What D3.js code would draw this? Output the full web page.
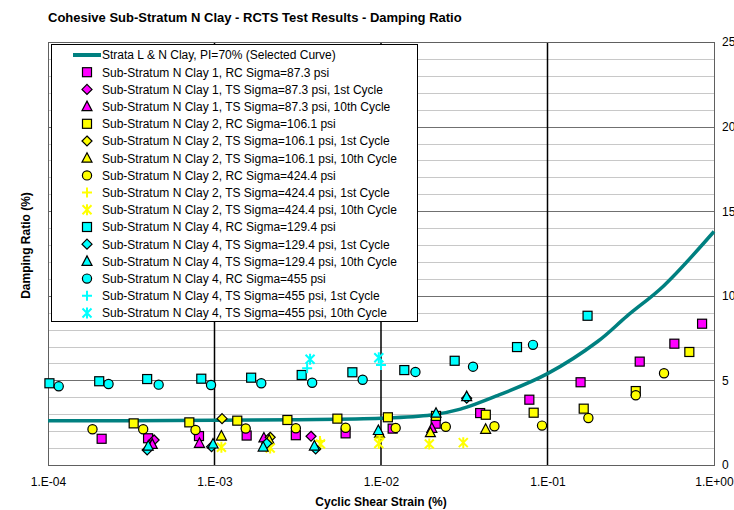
<!DOCTYPE html>
<html>
<head>
<meta charset="utf-8">
<script src="https://cdn.jsdelivr.net/npm/d3@7"></script>
<style>
  body { margin: 0; background: #fff; }
  svg text { font-family: "Liberation Sans", Arial, sans-serif; }
</style>
</head>
<body>
<div id="chart"></div>
<script>
// selected design curve
var curveStrain = [0.0001, 0.0003, 0.001, 0.003, 0.01, 0.02, 0.03, 0.05, 0.1, 0.2, 0.3, 0.5, 1.0];
var curveDamping = [2.62, 2.62, 2.64, 2.68, 2.76, 2.95, 3.3, 4.1, 5.4, 7.3, 8.8, 10.6, 13.8];

// test points: [strain %, damping %]
var clay1RC = [[2.1e-4, 1.55], [3.99e-4, 1.58], [8.07e-4, 1.71], [1.56e-3, 1.74], [3.08e-3, 1.76], [6.13e-3, 1.87],
  [0.01175, 2.15], [0.0213, 2.44], [0.0394, 3.07], [0.0778, 3.86], [0.158, 4.89], [0.358, 6.11], [0.578, 7.17], [0.848, 8.35]];
var clay1TS1 = [[4.34e-4, 1.48], [3.8e-3, 1.70]];
var clay1TS10 = [[4.23e-4, 1.22], [8.12e-4, 1.28], [1.98e-3, 1.60], [0.0202, 2.17]];
var clay2RC106 = [[3.27e-4, 2.46], [7.06e-4, 2.52], [1.37e-3, 2.62], [2.74e-3, 2.66], [5.47e-3, 2.74], [0.0110, 2.82],
  [0.0214, 2.9], [0.0426, 2.97], [0.0826, 3.09], [0.165, 3.33], [0.339, 4.37], [0.711, 6.68]];
var clay2TS1 = [[1.11e-3, 2.74], [2.16e-3, 1.64]];
var clay2TS10 = [[1.10e-3, 1.71], [2.13e-3, 1.48], [9.8e-3, 1.87], [0.0198, 1.91], [0.0425, 2.11]];
var clay2RC424 = [[1.85e-4, 2.11], [3.73e-4, 2.11], [7.69e-4, 2.07], [1.54e-3, 2.16], [3.08e-3, 2.17], [6.13e-3, 2.20],
  [0.01225, 2.19], [0.0245, 2.26], [0.048, 2.29], [0.0927, 2.33], [0.176, 2.78], [0.339, 4.12], [0.501, 5.42]];
var clay2TS424_1 = [[4.3e-3, 1.42], [9.8e-3, 1.58]];
var clay2TS424_10 = [[1.1e-3, 1.05], [2.16e-3, 1.0], [4.33e-3, 1.24], [9.7e-3, 1.27], [0.0195, 1.24], [0.0312, 1.32]];
var clay4RC129 = [[1.02e-4, 4.83], [2.03e-4, 4.95], [3.94e-4, 5.08], [8.33e-4, 5.10], [1.66e-3, 5.16], [3.34e-3, 5.32],
  [6.73e-3, 5.48], [0.0138, 5.61], [0.0277, 6.16], [0.0656, 6.97], [0.174, 8.82]];
var clay4TS1 = [[3.94e-4, 0.89], [9.6e-4, 1.08], [2.06e-3, 1.28], [4.05e-3, 0.95], [0.0327, 3.95]];
var clay4TS10 = [[4.0e-4, 1.12], [9.8e-4, 1.24], [1.96e-3, 1.06], [3.98e-3, 1.12], [9.64e-3, 2.04], [0.0214, 3.06], [0.0327, 4.04]];
var clay4RC455 = [[1.16e-4, 4.65], [2.31e-4, 4.79], [4.62e-4, 4.75], [9.53e-4, 4.73], [1.91e-3, 4.83], [3.86e-3, 4.86],
  [7.76e-3, 5.04], [0.0161, 5.50], [0.0357, 5.81], [0.0818, 7.10]];
var clay4TS455_1 = [[3.6e-3, 5.72], [0.01, 5.91]];
var clay4TS455_10 = [[3.75e-3, 6.25], [9.7e-3, 6.34]];

var curveName = "Strata L & N Clay, PI=70% (Selected Curve)";
var seriesNames = [
  "Sub-Stratum N Clay 1, RC Sigma=87.3 psi",
  "Sub-Stratum N Clay 1, TS Sigma=87.3 psi, 1st Cycle",
  "Sub-Stratum N Clay 1, TS Sigma=87.3 psi, 10th Cycle",
  "Sub-Stratum N Clay 2, RC Sigma=106.1 psi",
  "Sub-Stratum N Clay 2, TS Sigma=106.1 psi, 1st Cycle",
  "Sub-Stratum N Clay 2, TS Sigma=106.1 psi, 10th Cycle",
  "Sub-Stratum N Clay 2, RC Sigma=424.4 psi",
  "Sub-Stratum N Clay 2, TS Sigma=424.4 psi, 1st Cycle",
  "Sub-Stratum N Clay 2, TS Sigma=424.4 psi, 10th Cycle",
  "Sub-Stratum N Clay 4, RC Sigma=129.4 psi",
  "Sub-Stratum N Clay 4, TS Sigma=129.4 psi, 1st Cycle",
  "Sub-Stratum N Clay 4, TS Sigma=129.4 psi, 10th Cycle",
  "Sub-Stratum N Clay 4, RC Sigma=455 psi",
  "Sub-Stratum N Clay 4, TS Sigma=455 psi, 1st Cycle",
  "Sub-Stratum N Clay 4, TS Sigma=455 psi, 10th Cycle"
];
var seriesData = [clay1RC, clay1TS1, clay1TS10, clay2RC106, clay2TS1, clay2TS10, clay2RC424, clay2TS424_1, clay2TS424_10,
  clay4RC129, clay4TS1, clay4TS10, clay4RC455, clay4TS455_1, clay4TS455_10];
var seriesShapes = ["square", "diamond", "triangle", "square", "diamond", "triangle", "circle", "plus", "star",
  "square", "diamond", "triangle", "circle", "plus", "star"];
var seriesColors = ["#ff00ff", "#ff00ff", "#ff00ff", "#ffff00", "#ffff00", "#ffff00", "#ffff00", "#ffff00", "#ffff00",
  "#00ffff", "#00ffff", "#00ffff", "#00ffff", "#00ffff", "#00ffff"];

var xTicks = [1e-4, 1e-3, 1e-2, 1e-1, 1];
var xTickLabels = ["1.E-04", "1.E-03", "1.E-02", "1.E-01", "1.E+00"];
var yTicks = [0, 5, 10, 15, 20, 25];

var W = 734, H = 510;
var margin = {top: 42, right: 20, bottom: 45, left: 48};
var width = W - margin.left - margin.right,
    height = H - margin.top - margin.bottom;

var svg = d3.select("#chart").append("svg")
    .attr("width", W)
    .attr("height", H);

var x = d3.scaleLog().domain([1e-4, 1]).range([0, width]),
    y = d3.scaleLinear().domain([0, 25]).range([height, 0]);

var g = svg.append("g")
    .attr("transform", "translate(" + margin.left + "," + margin.top + ")");

// title
svg.append("text")
    .attr("x", 48).attr("y", 22)
    .attr("font-size", "13px").attr("font-weight", "bold")
    .text("Cohesive Sub-Stratum N Clay - RCTS Test Results - Damping Ratio");

// horizontal gridlines
var minor = d3.range(1, 25).filter(function (v) { return v % 5 !== 0; });
g.selectAll(".minor").data(minor).enter().append("line")
    .attr("x1", 0).attr("x2", width)
    .attr("y1", function (d) { return Math.round(y(d)) + 0.5; })
    .attr("y2", function (d) { return Math.round(y(d)) + 0.5; })
    .attr("stroke", "#c8c8c8").attr("stroke-width", 1);
g.selectAll(".major").data([5, 10, 15, 20]).enter().append("line")
    .attr("x1", 0).attr("x2", width)
    .attr("y1", function (d) { return Math.round(y(d)) + 0.5; })
    .attr("y2", function (d) { return Math.round(y(d)) + 0.5; })
    .attr("stroke", "#707070").attr("stroke-width", 1);

// decade lines
g.selectAll(".decade").data([1e-3, 1e-2, 1e-1]).enter().append("line")
    .attr("x1", function (d) { return x(d); }).attr("x2", function (d) { return x(d); })
    .attr("y1", 0).attr("y2", height)
    .attr("stroke", "#000").attr("stroke-width", 1.5);

// plot border
g.append("rect")
    .attr("x", 0.5).attr("y", 0.5)
    .attr("width", width).attr("height", height)
    .attr("fill", "none").attr("stroke", "#606060");

// x axis labels
g.append("g")
    .attr("transform", "translate(0," + height + ")")
    .call(d3.axisBottom(x).tickValues(xTicks).tickSize(0).tickPadding(12)
        .tickFormat(function (d, i) { return xTickLabels[i]; }))
    .call(function (a) {
        a.select(".domain").remove();
        a.selectAll("text").attr("font-size", "12px").attr("font-family", "Liberation Sans, Arial, sans-serif").attr("fill", "#000");
    });

// y axis labels (right side)
g.append("g")
    .attr("transform", "translate(" + width + ",0)")
    .call(d3.axisRight(y).tickValues(yTicks).tickSize(0).tickPadding(8).tickFormat(d3.format("d")))
    .call(function (a) {
        a.select(".domain").remove();
        a.selectAll("text").attr("font-size", "12px").attr("font-family", "Liberation Sans, Arial, sans-serif").attr("fill", "#000");
    });

// axis titles
svg.append("text")
    .attr("x", margin.left + x(1e-2)).attr("y", 506)
    .attr("text-anchor", "middle")
    .attr("font-size", "12px").attr("font-weight", "bold")
    .text("Cyclic Shear Strain (%)");
svg.append("text")
    .attr("transform", "translate(30," + (margin.top + height / 2 - 8) + ") rotate(-90)")
    .attr("text-anchor", "middle")
    .attr("font-size", "12px").attr("font-weight", "bold")
    .text("Damping Ratio (%)");

// marker drawing
function marker(sel, shape, color) {
    if (shape === "square") {
        sel.append("rect").attr("x", -4.5).attr("y", -4.5).attr("width", 9).attr("height", 9)
            .attr("fill", color).attr("stroke", "#000").attr("stroke-width", 1.2);
    } else if (shape === "circle") {
        sel.append("circle").attr("r", 4.6)
            .attr("fill", color).attr("stroke", "#000").attr("stroke-width", 1.2);
    } else if (shape === "diamond") {
        sel.append("path").attr("d", "M0,-5L5,0L0,5L-5,0Z")
            .attr("fill", color).attr("stroke", "#000").attr("stroke-width", 1.2);
    } else if (shape === "triangle") {
        sel.append("path").attr("d", "M0,-5.5L5,4L-5,4Z")
            .attr("fill", color).attr("stroke", "#000").attr("stroke-width", 1.2);
    } else if (shape === "plus") {
        sel.append("path").attr("d", "M-5,0H5M0,-5V5")
            .attr("fill", "none").attr("stroke", color).attr("stroke-width", 2);
    } else if (shape === "star") {
        sel.append("path").attr("d", "M-4.5,-4.5L4.5,4.5M-4.5,4.5L4.5,-4.5M0,-5.5V5.5")
            .attr("fill", "none").attr("stroke", color).attr("stroke-width", 2);
    }
}

// legend box
var lg = svg.append("g");
lg.append("rect")
    .attr("x", 51.5).attr("y", 44.5).attr("width", 366).attr("height", 277)
    .attr("fill", "#fff").attr("stroke", "#000").attr("stroke-width", 1);
var rowH = 17.2, row0 = 55;
lg.append("line")
    .attr("x1", 73).attr("x2", 101).attr("y1", row0).attr("y2", row0)
    .attr("stroke", "#008080").attr("stroke-width", 4);
lg.append("text").attr("x", 102).attr("y", row0 + 4.3).attr("font-size", "12px").text(curveName);
seriesNames.forEach(function (name, i) {
    var yy = row0 + rowH * (i + 1);
    var m = lg.append("g").attr("transform", "translate(87," + yy + ")");
    marker(m, seriesShapes[i], seriesColors[i]);
    lg.append("text").attr("x", 102).attr("y", yy + 4.3).attr("font-size", "12px").text(name);
});

// selected curve
var curveData = curveStrain.map(function (s, i) { return [s, curveDamping[i]]; });
var line = d3.line()
    .x(function (d) { return x(d[0]); })
    .y(function (d) { return y(d[1]); })
    .curve(d3.curveCatmullRom.alpha(0.5));
g.append("path")
    .datum(curveData)
    .attr("d", line)
    .attr("fill", "none")
    .attr("stroke", "#008080")
    .attr("stroke-width", 3.5);

// test points
seriesData.forEach(function (pts, i) {
    g.selectAll(".s" + i).data(pts).enter().append("g")
        .attr("class", "s" + i)
        .attr("transform", function (d) { return "translate(" + x(d[0]) + "," + y(d[1]) + ")"; })
        .each(function () { marker(d3.select(this), seriesShapes[i], seriesColors[i]); });
});
</script>
</body>
</html>
